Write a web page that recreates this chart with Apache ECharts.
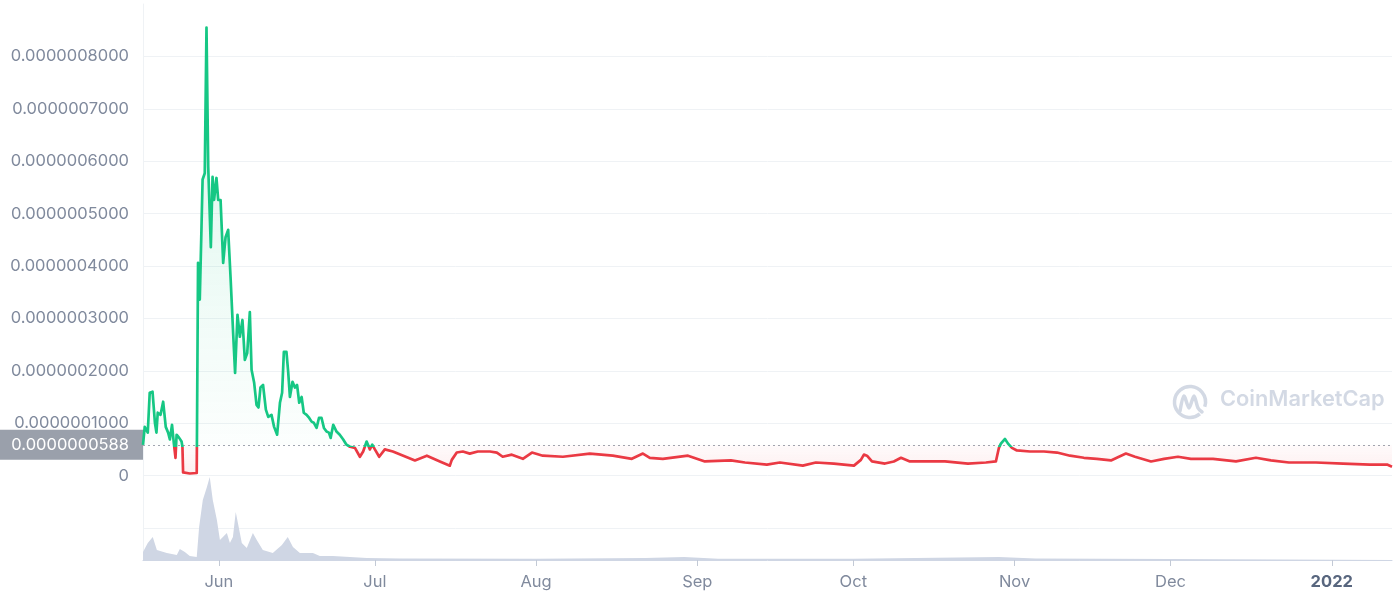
<!DOCTYPE html>
<html><head><meta charset="utf-8">
<script src="https://cdn.jsdelivr.net/npm/echarts@6/dist/echarts.min.js"></script>
<style>html,body{margin:0;padding:0;background:#fff}#c{width:1393px;height:600px}</style>
</head><body><div id="c"></div>
<script>
// Price in units of 1e-9 USD
const priceDates = [
'2021-05-17 10:00','2021-05-17 18:00','2021-05-18 08:00','2021-05-18 17:00','2021-05-19 06:00','2021-05-19 17:00',
'2021-05-20 00:00','2021-05-20 06:00','2021-05-20 19:00','2021-05-21 07:00','2021-05-21 19:00','2021-05-22 06:00',
'2021-05-22 14:00','2021-05-23 00:00','2021-05-23 08:00','2021-05-23 16:00','2021-05-23 21:00','2021-05-24 09:00',
'2021-05-24 20:00','2021-05-25 00:00','2021-05-25 03:00','2021-05-26 10:00','2021-05-27 18:00','2021-05-28 00:00',
'2021-05-28 08:00','2021-05-28 16:00','2021-05-28 21:00','2021-05-29 07:00','2021-05-29 15:00','2021-05-29 23:00',
'2021-05-30 11:00','2021-05-30 19:00','2021-05-31 02:00','2021-05-31 13:00','2021-05-31 21:00','2021-06-01 08:00',
'2021-06-01 20:00','2021-06-02 07:00','2021-06-02 19:00','2021-06-03 06:00','2021-06-03 18:00','2021-06-04 03:00',
'2021-06-04 14:00','2021-06-05 01:00','2021-06-05 13:00','2021-06-06 00:00','2021-06-06 11:00','2021-06-06 23:00',
'2021-06-07 07:00','2021-06-07 19:00','2021-06-08 06:00','2021-06-08 15:00','2021-06-09 00:00','2021-06-09 12:00',
'2021-06-10 01:00','2021-06-10 12:00','2021-06-11 03:00','2021-06-11 15:00','2021-06-12 05:00','2021-06-12 18:00',
'2021-06-13 04:00','2021-06-13 12:00','2021-06-14 00:00','2021-06-14 08:00','2021-06-14 16:00','2021-06-15 04:00',
'2021-06-15 15:00','2021-06-16 01:00','2021-06-16 11:00','2021-06-16 22:00','2021-06-17 08:00','2021-06-17 21:00',
'2021-06-18 09:00','2021-06-18 20:00','2021-06-19 06:00','2021-06-19 19:00','2021-06-20 06:00','2021-06-20 18:00',
'2021-06-21 05:00','2021-06-21 17:00','2021-06-22 04:00','2021-06-22 12:00','2021-06-23 00:00','2021-06-23 15:00',
'2021-06-24 06:00','2021-06-24 22:00','2021-06-25 13:00','2021-06-26 05:00','2021-06-27 04:00','2021-06-28 03:00',
'2021-06-28 18:00','2021-06-29 10:00','2021-06-30 01:00','2021-06-30 12:00','2021-07-01 00:00','2021-07-01 20:00',
'2021-07-02 22:00','2021-07-04 11:00','2021-07-08 17:00','2021-07-11 00:00','2021-07-13 12:00','2021-07-15 10:00',
'2021-07-15 19:00','2021-07-16 18:00','2021-07-17 22:00','2021-07-19 06:00','2021-07-20 19:00','2021-07-23 03:00',
'2021-07-24 11:00','2021-07-25 14:00','2021-07-27 08:00','2021-07-29 11:00','2021-07-31 05:00','2021-08-02 07:00',
'2021-08-06 04:00','2021-08-11 08:00','2021-08-15 18:00','2021-08-19 10:00','2021-08-21 13:00','2021-08-22 21:00',
'2021-08-25 09:00','2021-08-30 05:00','2021-09-02 11:00','2021-09-07 11:00','2021-09-10 04:00','2021-09-14 09:00',
'2021-09-16 21:00','2021-09-21 07:00','2021-09-23 19:00','2021-09-27 06:00','2021-10-01 03:00','2021-10-02 11:00',
'2021-10-03 01:00','2021-10-03 15:00','2021-10-04 14:00','2021-10-07 02:00','2021-10-08 19:00','2021-10-10 04:00',
'2021-10-11 21:00','2021-10-14 09:00','2021-10-18 15:00','2021-10-23 01:00','2021-10-26 12:00','2021-10-28 10:00',
'2021-10-29 00:00','2021-10-29 09:00','2021-10-30 04:00','2021-10-30 18:00','2021-10-31 12:00','2021-11-01 11:00',
'2021-11-03 23:00','2021-11-06 16:00','2021-11-09 04:00','2021-11-11 16:00','2021-11-14 08:00','2021-11-16 20:00',
'2021-11-19 13:00','2021-11-22 10:00','2021-11-24 04:00','2021-11-27 06:00','2021-11-29 18:00','2021-12-02 10:00',
'2021-12-04 22:00','2021-12-09 04:00','2021-12-13 14:00','2021-12-17 10:00','2021-12-20 07:00','2021-12-23 18:00',
'2021-12-28 23:00','2022-01-03 04:00','2022-01-08 08:00','2022-01-11 15:00','2022-01-12 14:00'
];
const priceValues = [
58.8,93,82,158,160,101,
82,120,116,141,93,82,
69,97,63,34,78,72,
65,55,6,4,5,406,
336,475,565,577,855,589,
436,570,526,568,526,526,
406,455,469,379,272,196,
307,265,297,221,234,312,
202,177,135,130,168,173,
126,112,116,93,78,139,
158,236,236,198,150,179,
168,173,139,150,120,116,
110,103,101,91,110,110,
91,84,82,72,97,84,
78,69,59,55,53,36,
46,65,50,59,50,36,
50,46,29,38,27,19,
30,44,46,42,46,46,
44,36,40,32,44,38,
36,42,38,32,42,34,
32,38,27,29,25,21,
25,19,25,23,19,30,
40,38,27,23,27,34,
27,27,27,23,25,27,
53,61,70,61,53,48,
46,46,44,38,34,32,
29,42,36,27,32,36,
32,32,27,34,29,25,
25,23,21,21,17
];
const baselinePrice = 58.8;

// Trading volume (relative units)
const volumeDates = [
'2021-05-17 10:00','2021-05-17 14:00','2021-05-18 08:00','2021-05-19 07:00','2021-05-20 02:00','2021-05-22 00:00',
'2021-05-23 22:00','2021-05-24 12:00','2021-05-25 11:00','2021-05-26 10:00','2021-05-27 18:00','2021-05-28 05:00',
'2021-05-28 22:00','2021-05-29 17:00','2021-05-30 06:00','2021-05-30 20:00','2021-05-31 15:00','2021-06-01 05:00',
'2021-06-02 13:00','2021-06-03 03:00','2021-06-03 17:00','2021-06-04 06:00','2021-06-04 16:00','2021-06-05 10:00',
'2021-06-06 09:00','2021-06-07 13:00','2021-06-08 07:00','2021-06-09 11:00','2021-06-11 09:00','2021-06-13 03:00',
'2021-06-14 06:00','2021-06-15 06:00','2021-06-16 14:00','2021-06-19 02:00','2021-06-20 10:00','2021-06-22 22:00',
'2021-06-26 05:00','2021-06-29 11:00','2021-07-05 19:00','2021-08-01 00:00','2021-08-22 00:00','2021-08-29 12:00',
'2021-09-05 00:00','2021-10-01 00:00','2021-10-29 00:00','2021-11-05 00:00','2021-12-01 00:00','2022-01-12 14:00'
];
const volumeValues = [
8,10,17,23,10,7,
5,11,8,4,3,33,
60,73,83,60,40,20,
27,17,23,48,37,17,
12,27,20,10,7,15,
23,13,7,7,4,4,
3,2,1.5,1.2,2,3,
1.2,1.2,3,1.5,1,1
];

const tickDates = ['2021-06-01 00:00','2021-07-01 00:00','2021-08-01 00:00','2021-09-01 00:00','2021-10-01 00:00','2021-11-01 00:00','2021-12-01 00:00','2022-01-01 00:00'];
const tickLabels = ['Jun','Jul','Aug','Sep','Oct','Nov','Dec','2022'];

const ts = s => new Date(s.replace(' ', 'T')).getTime();
const GREEN = '#16c784', RED = '#ea3943';
const xMin = ts(priceDates[0]), xMax = ts(priceDates[priceDates.length - 1]);
const tickTs = tickDates.map(ts);

const maxV = Math.max(...priceValues), minV = Math.min(...priceValues);
const off = (maxV - baselinePrice) / (maxV - minV);
const off2 = Math.min(1, off + 0.0005);

const chart = echarts.init(document.getElementById('c'));
const labelColor = '#808a9d';
const gridColor = '#eff2f5';

chart.setOption({
  animation: false,
  textStyle: { fontFamily: 'Inter, "Noto Sans", sans-serif' },
  grid: [
    { left: 143, right: 1, top: 4, bottom: 72 },
    { left: 143, right: 1, top: 476, bottom: 40 }
  ],
  xAxis: [
    { type: 'value', gridIndex: 0, min: xMin, max: xMax, show: false, splitLine: { show: false } },
    { type: 'value', gridIndex: 1, min: xMin, max: xMax,
      axisLine: { show: true, lineStyle: { color: '#cfd6e4', width: 1 } },
      axisTick: { show: true, length: 6, lineStyle: { color: '#c3cad6' }, customValues: tickTs },
      splitLine: { show: false },
      axisLabel: {
        customValues: tickTs, margin: 14, fontSize: 16.5, color: labelColor,
        formatter: v => {
          const i = tickTs.indexOf(v);
          const t = i >= 0 ? tickLabels[i] : '';
          return /^\d{4}$/.test(t) ? '{b|' + t + '}' : t;
        },
        rich: { b: { fontWeight: 'bold', fontSize: 16.5, color: '#58667e', fontFamily: 'Inter' } }
      }
    }
  ],
  yAxis: [
    { type: 'value', gridIndex: 0, min: -100, max: 900, interval: 100,
      axisLine: { show: true, lineStyle: { color: gridColor } },
      axisTick: { show: false },
      splitLine: { show: true, showMaxLine: false, lineStyle: { color: gridColor } },
      axisLabel: {
        margin: 14, fontSize: 16.5, color: labelColor, padding: [4, 0, 0, 0],
        formatter: v => (v < 0 || v >= 900) ? '' : (v === 0 ? '0' : (v / 1e9).toFixed(10))
      }
    },
    { type: 'value', gridIndex: 1, min: 0, max: 84,
      axisLine: { show: true, lineStyle: { color: gridColor } },
      axisTick: { show: false }, axisLabel: { show: false }, splitLine: { show: false }
    }
  ],
  series: [
    {
      type: 'line', xAxisIndex: 0, yAxisIndex: 0, symbol: 'none', z: 5,
      data: priceDates.map((d, i) => [ts(d), priceValues[i]]),
      lineStyle: {
        width: 2.7, join: 'round',
        color: new echarts.graphic.LinearGradient(0, 0, 0, 1, [
          { offset: 0, color: GREEN }, { offset: off, color: GREEN },
          { offset: off2, color: RED }, { offset: 1, color: RED }
        ])
      },
      areaStyle: {
        origin: baselinePrice,
        color: new echarts.graphic.LinearGradient(0, 0, 0, 1, [
          { offset: 0, color: 'rgba(22,199,132,0.24)' },
          { offset: off, color: 'rgba(22,199,132,0.02)' },
          { offset: off2, color: 'rgba(234,57,67,0.03)' },
          { offset: 1, color: 'rgba(234,57,67,0.12)' }
        ])
      },
      markLine: {
        silent: true, symbol: 'none',
        lineStyle: { type: [2, 3], color: '#a0a6b0', width: 1 },
        label: {
          position: 'start', distance: 0, color: '#fff', fontSize: 16.5,
          backgroundColor: '#9aa0ab', padding: [6, 14, 6, 10], width: 119, align: 'right',
          lineHeight: 18, fontFamily: 'Inter',
          formatter: () => (baselinePrice / 1e9).toFixed(10)
        },
        data: [{ yAxis: baselinePrice }]
      }
    },
    {
      type: 'line', xAxisIndex: 1, yAxisIndex: 1, symbol: 'none', z: 2,
      data: volumeDates.map((d, i) => [ts(d), volumeValues[i]]),
      lineStyle: { width: 0 },
      areaStyle: { color: '#cfd6e4', opacity: 1 }
    }
  ],
  graphic: [
    { type: 'arc', shape: { cx: 1190, cy: 402, r: 15.5, startAngle: Math.PI * 0.28, endAngle: Math.PI * 2.1 },
      style: { stroke: '#d3d9e4', lineWidth: 3.5, fill: null }, silent: true },
    { type: 'polyline', shape: { points: [[1180, 411], [1184, 396], [1189, 408], [1194, 396], [1198, 408], [1202, 412]], smooth: 0.3 },
      style: { stroke: '#d3d9e4', lineWidth: 3.5, fill: null, lineCap: 'round', lineJoin: 'round' }, silent: true },
    { type: 'text', left: 1220, top: 388,
      style: { text: 'CoinMarketCap', fill: '#d3d9e4', font: '600 21.8px Inter' }, silent: true }
  ]
});
</script>
</body></html>
